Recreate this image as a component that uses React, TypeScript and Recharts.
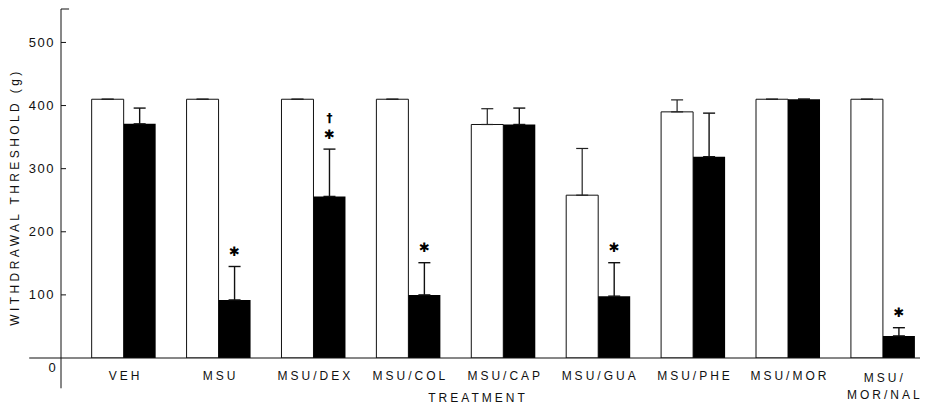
import React from 'react';
import {
  BarChart,
  Bar,
  XAxis,
  YAxis,
  ErrorBar,
  LabelList,
  ReferenceLine,
} from 'recharts';

// treatment groups, open bar = pre, filled bar = post
const categories = ['VEH', 'MSU', 'MSU/DEX', 'MSU/COL', 'MSU/CAP', 'MSU/GUA', 'MSU/PHE', 'MSU/MOR', 'MSU/|MOR/NAL'];
const openMean = [410, 410, 410, 410, 370, 258, 390, 410, 410];
const openErr = [0, 0, 0, 0, 25, 74, 19, 0, 0];
const closedMean = [371, 92, 256, 100, 370, 98, 319, 410, 35];
const closedErr = [25, 53, 75, 51, 26, 53, 69, 0, 13];
const marks = ['', '*', '†*', '*', '', '*', '', '', '*'];
const yTicks = [0, 100, 200, 300, 400, 500];

const FONT = '"Liberation Sans", Arial, Helvetica, sans-serif';

const rows = categories.map((c, i) => ({
  idx: i,
  name: c,
  open: openMean[i],
  openErr: [0, openErr[i]],
  closed: closedMean[i],
  closedErr: [0, closedErr[i]],
  mark: marks[i],
}));

const XTick = (props: any) => {
  const { x, y, payload } = props;
  const label = categories[payload.value];
  if (label == null) return null;
  const lines = label.split('|');
  return (
    <g>
      {lines.map((ln: string, k: number) => (
        <text
          key={k}
          x={x + 1.5}
          y={lines.length > 1 ? y + 23.5 + k * 17 : y + 21.5}
          textAnchor="middle"
          fontFamily={FONT}
          fontSize={12}
          letterSpacing={3}
          fill="#111"
        >
          {ln}
        </text>
      ))}
    </g>
  );
};

const YTick = (props: any) => {
  const { x, y, payload } = props;
  if (payload.value === 0) {
    return (
      <text x={x - 9} y={y + 13.5} textAnchor="middle" fontFamily={FONT} fontSize={13} fill="#111">
        0
      </text>
    );
  }
  return (
    <g>
      <line x1={x} x2={x + 5} y1={y} y2={y} stroke="#111" strokeWidth={1} />
      <text
        x={x - 6}
        y={y + 4.5}
        textAnchor="end"
        fontFamily={FONT}
        fontSize={13}
        letterSpacing={1.5}
        fill="#111"
      >
        {payload.value}
      </text>
    </g>
  );
};

const renderMark = (props: any) => {
  const vb = props.viewBox && props.viewBox.height != null ? props.viewBox : props;
  const { x, y, width, height } = vb;
  const i = props.index;
  const txt = marks[i];
  if (!txt) return null;
  const perUnit = height / closedMean[i];
  const top = y - closedErr[i] * perUnit;
  const cx = x + width / 2;
  const hasDagger = txt.indexOf('†') >= 0;
  return (
    <g>
      <text x={cx} y={top - 15} textAnchor="middle" dominantBaseline="central" fontFamily="DejaVu Sans" fontSize={13} fill="#000">
        ✱
      </text>
      {hasDagger && (
        <text x={cx} y={top - 31} textAnchor="middle" dominantBaseline="central" fontFamily="DejaVu Sans" fontWeight="bold" fontSize={12} fill="#000">
          †
        </text>
      )}
    </g>
  );
};

export default function App() {
  return (
    <div style={{ position: 'absolute', left: 0, top: 0, background: '#fff' }}>
      <BarChart
        width={926}
        height={407}
        data={rows}
        margin={{ top: 9, right: 6, bottom: 19, left: 16 }}
        barGap={0}
      >
        <XAxis
          dataKey="idx"
          type="number"
          domain={[-0.665, 8.386]}
          allowDataOverflow
          ticks={[0, 1, 2, 3, 4, 5, 6, 7, 8]}
          interval={0}
          axisLine={false}
          tickLine={false}
          tickSize={0}
          tickMargin={0}
          height={30}
          tick={<XTick />}
          label={{
            content: () => (
              <text
                x={478}
                y={402}
                textAnchor="middle"
                fontFamily={FONT}
                fontSize={12}
                letterSpacing={3}
                fill="#111"
              >
                TREATMENT
              </text>
            ),
          }}
        />
        <YAxis
          type="number"
          domain={[0, 553]}
          allowDataOverflow
          ticks={yTicks}
          interval={0}
          width={45}
          tickLine={false}
          tickSize={0}
          tickMargin={0}
          axisLine={{ stroke: '#111', strokeWidth: 1 }}
          tick={<YTick />}
          label={{
            content: () => (
              <text
                x={19}
                y={197}
                transform="rotate(-90 19 197)"
                textAnchor="middle"
                fontFamily={FONT}
                fontSize={12}
                letterSpacing={3.4}
                fill="#111"
              >
                WITHDRAWAL THRESHOLD (g)
              </text>
            ),
          }}
        />
        <ReferenceLine
          segment={[{ x: -1, y: 0 }, { x: 8.386, y: 0 }]}
          ifOverflow="visible"
          stroke="#111"
          strokeWidth={1.2}
        />
        <ReferenceLine
          segment={[{ x: -0.665, y: 0 }, { x: -0.665, y: -48 }]}
          ifOverflow="visible"
          stroke="#111"
          strokeWidth={1}
        />
        <ReferenceLine
          segment={[{ x: -0.665, y: 553 }, { x: -0.58, y: 553 }]}
          ifOverflow="visible"
          stroke="#111"
          strokeWidth={1}
        />
        <Bar dataKey="open" fill="#fff" stroke="#111" strokeWidth={1} barSize={32} isAnimationActive={false}>
          <ErrorBar dataKey="openErr" width={6} stroke="#222" strokeWidth={1.2} direction="y" isAnimationActive={false} />
        </Bar>
        <Bar dataKey="closed" fill="#000" barSize={32} isAnimationActive={false}>
          <ErrorBar dataKey="closedErr" width={6} stroke="#111" strokeWidth={1.4} direction="y" isAnimationActive={false} />
          <LabelList dataKey="mark" content={renderMark} />
        </Bar>
      </BarChart>
    </div>
  );
}
